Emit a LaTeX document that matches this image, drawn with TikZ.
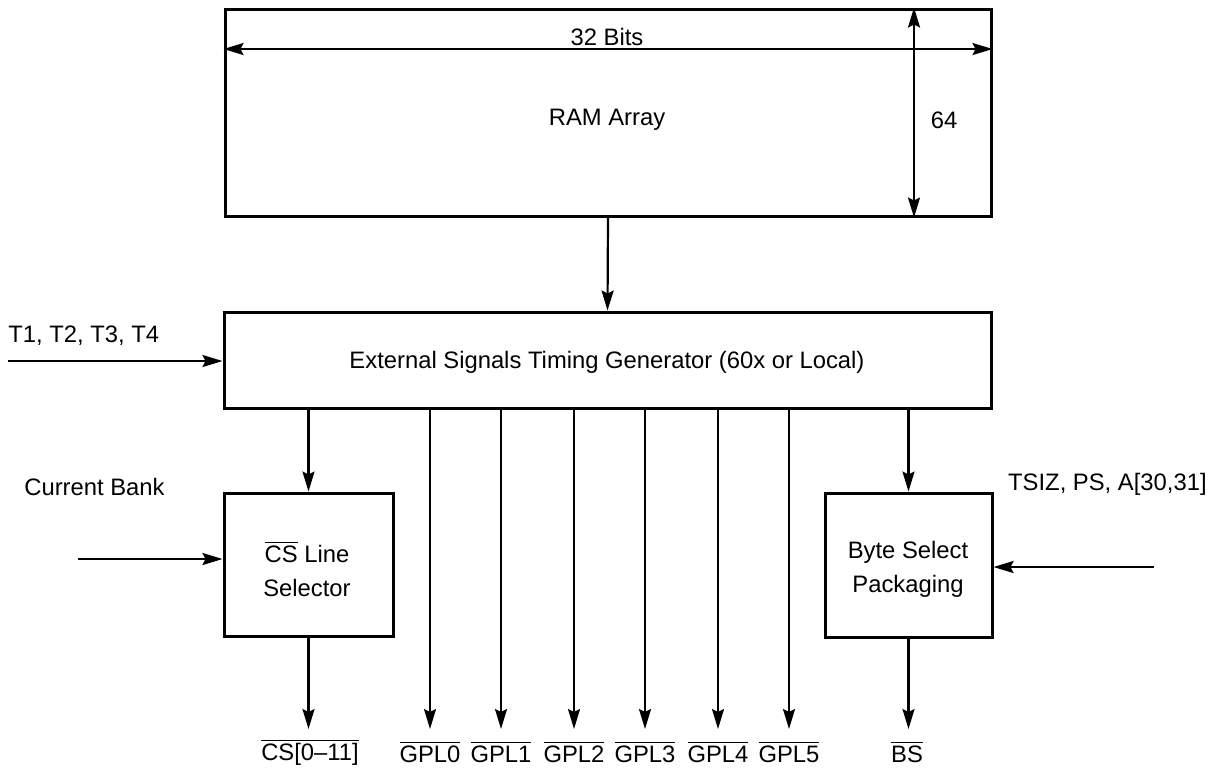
\documentclass[tikz,border=0pt]{standalone}
\usepackage{fontspec}
\setmainfont{Liberation Sans}
\usetikzlibrary{arrows.meta}
\newcommand{\ovl}[1]{$\overline{\mbox{#1}}$}
\tikzset{
  box/.style={draw, line width=1.5pt, rectangle, inner sep=0pt},
  tip/.style={},
  arr/.style={line width=1.1pt, -{Stealth[length=10pt,width=6pt,inset=1.5pt]}},
  darr/.style={line width=1.1pt, {Stealth[length=10pt,width=6pt,inset=1.5pt]}-{Stealth[length=10pt,width=6pt,inset=1.5pt]}},
  lbl/.style={inner sep=0pt, font=\fontsize{11.9}{17}\selectfont},
}
\begin{document}
\begin{tikzpicture}[x=0.5pt, y=-0.5pt, every node/.style={font=\fontsize{11.9}{17}\selectfont}]
\useasboundingbox (0,0) rectangle (1214,768);
% boxes
\node[box, minimum width=383pt, minimum height=103.5pt] (ram) at (608,112.5) {};
\node[box, minimum width=383.5pt, minimum height=48pt] (etg) at (607.5,360) {};
\node[box, minimum width=84.5pt, minimum height=71.5pt] (cs) at (308.5,564.5) {};
\node[box, minimum width=83.5pt, minimum height=72pt] (bsp) at (908.5,565) {};
% box texts
\node[lbl] (ramtxt) at (607,120) {RAM Array};
\node[lbl] (bits) at (607,37) {32 Bits};
\node[lbl] (sixtyfour) at (944,120) {64};
\node[lbl] (etgtxt) at (607,362) {External Signals Timing Generator (60x or Local)};
\node[lbl, align=center] (cstxt) at (307,569) {\ovl{CS} Line\\Selector};
\node[lbl, align=center] (bsptxt) at (908,569) {Byte Select\\Packaging};
% outside labels
\node[lbl, anchor=west] (tlab) at (8,336) {T1, T2, T3, T4};
\node[lbl, anchor=west] (cblab) at (24,487) {Current Bank};
\node[lbl, anchor=east] (tsizlab) at (1207,484) {TSIZ, PS, A[30,31]};
% dimension arrows
\draw[darr] (ram.west |- 0,49) -- (ram.east |- 0,49);
\draw[darr] (ram.north -| 914,0) -- (ram.south -| 914,0);
% connections
\draw[arr] (ram.south) -- (etg.north);
\coordinate (tin) at (8,361);
\draw[arr] (tin) -- (tin -| etg.west);
\draw[arr] (etg.south -| cs.north) -- (cs.north);
\draw[arr] (etg.south -| bsp.north) -- (bsp.north);
\coordinate (cbin) at (78,559);
\draw[arr] (cbin) -- (cbin -| cs.west);
\coordinate (bspin) at (1154,567);
\draw[arr] (bspin) -- (bspin -| bsp.east);
% outputs
\coordinate (csout) at (308.5,729);
\draw[arr] (cs.south) -- (csout);
\node[lbl] (cslab) at (310,752) {\ovl{CS[0–11]}};
\coordinate (bsout) at (908.5,729);
\draw[arr] (bsp.south) -- (bsout);
\node[lbl] (bslab) at (907,752) {\ovl{BS}};
\foreach \x/\n in {430/0,501/1,574/2,645/3,718/4,789/5}{
  \coordinate (g\n) at (\x,729);
  \draw[arr] (etg.south -| g\n) -- (g\n);
  \node[lbl] (gl\n) at (\x,752) {\ovl{GPL\n}};
}
\end{tikzpicture}
\end{document}
